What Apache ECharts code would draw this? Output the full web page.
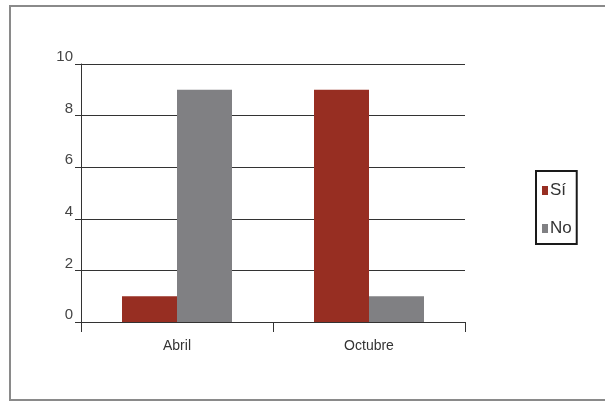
<!DOCTYPE html>
<html>
<head>
<meta charset="utf-8">
<script src="https://cdn.jsdelivr.net/npm/echarts@6/dist/echarts.min.js"></script>
<style>
  html, body { margin: 0; padding: 0; background: #fff; }
  #main { width: 605px; height: 401px; }
</style>
</head>
<body>
<div id="main"></div>
<script>
var categories = ['Abril', 'Octubre'];
var siValues = [1, 9];
var noValues = [9, 1];
var yTicks = [0, 2, 4, 6, 8, 10];

var myChart = echarts.init(document.getElementById('main'));

myChart.setOption({
    animation: false,
    textStyle: { fontFamily: 'Liberation Sans' },
    graphic: [
        {
            type: 'rect',
            shape: { x: 10, y: 6, width: 610, height: 394 },
            style: { fill: 'none', stroke: '#8a8a8a', lineWidth: 2 },
            silent: true
        }
    ],
    legend: {
        orient: 'vertical',
        left: 536,
        top: 171,
        padding: [11, 5, 7, 6],
        itemGap: 21,
        itemWidth: 6,
        itemHeight: 9,
        borderColor: '#1a1a1a',
        borderWidth: 2,
        icon: 'rect',
        textStyle: { fontSize: 17, color: '#333', padding: [0, 0, 0, -3] },
        data: ['Sí', 'No']
    },
    grid: {
        left: 81,
        right: 140,
        top: 64,
        bottom: 79
    },
    xAxis: {
        type: 'category',
        data: categories,
        axisLine: { lineStyle: { color: '#333', width: 1 } },
        axisTick: { show: true, length: 10, lineStyle: { color: '#333' } },
        axisLabel: { color: '#333', fontSize: 14, margin: 17 }
    },
    yAxis: {
        type: 'value',
        min: yTicks[0],
        max: yTicks[yTicks.length - 1],
        interval: 2,
        axisLine: { show: true, lineStyle: { color: '#333', width: 1 } },
        axisTick: { show: true, length: 6, lineStyle: { color: '#333' } },
        axisLabel: { color: '#444', fontSize: 15, margin: 8, verticalAlign: 'bottom', lineHeight: 14 },
        splitLine: { lineStyle: { color: '#333', width: 1 } }
    },
    series: [
        {
            name: 'Sí',
            type: 'bar',
            data: siValues,
            barWidth: 55,
            barGap: 0,
            itemStyle: { color: '#972e22' }
        },
        {
            name: 'No',
            type: 'bar',
            data: noValues,
            barWidth: 55,
            barGap: 0,
            itemStyle: { color: '#808083' }
        }
    ]
});
</script>
</body>
</html>
